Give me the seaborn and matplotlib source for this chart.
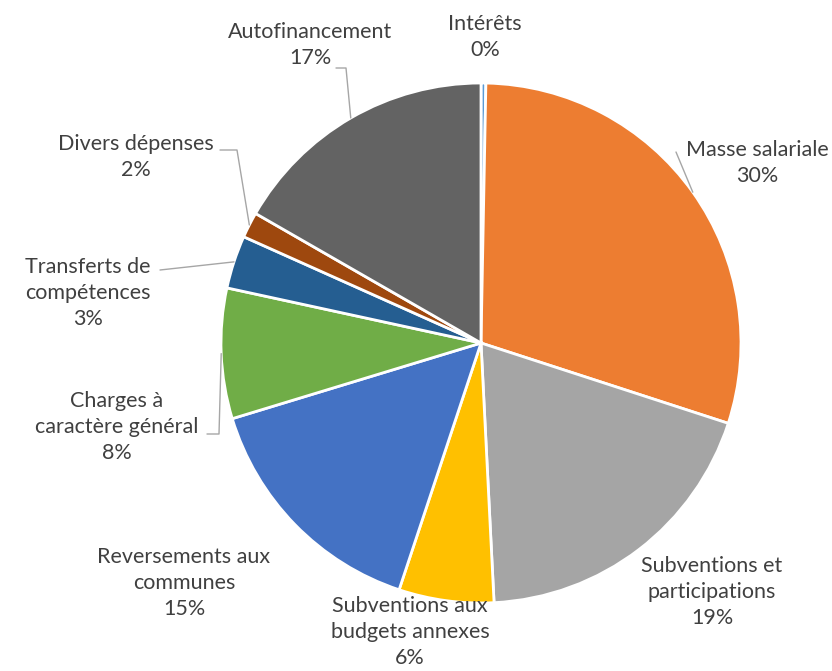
import numpy as np
import seaborn as sns
import matplotlib.pyplot as plt

# ---------------------- Data ----------------------------------------------------
labels = ["Intérêts", "Masse salariale", "Subventions et\nparticipations",
          "Subventions aux\nbudgets annexes", "Reversements aux\ncommunes",
          "Charges à\ncaractère général", "Transferts de\ncompétences",
          "Divers dépenses", "Autofinancement"]
values = [0.3, 29.7, 19.2, 5.9, 15.2, 8.1, 3.3, 1.6, 16.7]
colors = ["#5B9BD5", "#ED7D31", "#A5A5A5", "#FFC000", "#4472C4",
          "#70AD47", "#255E91", "#9E480E", "#636363"]

# ---------------------- Layout (pixel coords, origin top-left) -------------------
W, H = 832, 671
CX, CY, R = 481, 343, 260
label_pos = [(485, 37), (757, 163), (712, 592), (410, 632), (184, 583),
             (117, 427), (88, 293), (136, 157), (310, 45)]
# leader line start points (text side); None = no leader
leaders = [None, [(676, 152)], None, None, None,
           [(207, 434), (219, 434)], [(160, 270)],
           [(220, 150), (237, 150)], [(336, 68), (346, 68)]]

sns.set_theme(style="white")
plt.rcParams['font.family'] = ['Lato', 'DejaVu Sans']

fig = plt.figure(figsize=(W / 100, H / 100), dpi=100)
ax = fig.add_axes([0, 0, 1, 1])
ax.axis("off")

wedges, _ = ax.pie(values, colors=colors, startangle=90, counterclock=False,
                   radius=R, center=(0, 0),
                   wedgeprops=dict(edgecolor="white", linewidth=2))
ax.set_xlim(-CX, W - CX)
ax.set_ylim(-(H - CY), CY)


def to_data(p):
    return p[0] - CX, CY - p[1]


for i, w in enumerate(wedges):
    pct = int(round(values[i]))
    x, y = to_data(label_pos[i])
    ax.text(x, y, f"{labels[i]}\n{pct}%", ha="center", va="center",
            fontsize=15.5, color="#404040", linespacing=1.35)
    if leaders[i] is not None:
        mid = np.deg2rad((w.theta1 + w.theta2) / 2)
        pts = [to_data(p) for p in leaders[i]]
        pts.append((R * np.cos(mid), R * np.sin(mid)))
        xs, ys = zip(*pts)
        ax.plot(xs, ys, color="#A6A6A6", linewidth=1)

fig.savefig("out.png", dpi=100)
